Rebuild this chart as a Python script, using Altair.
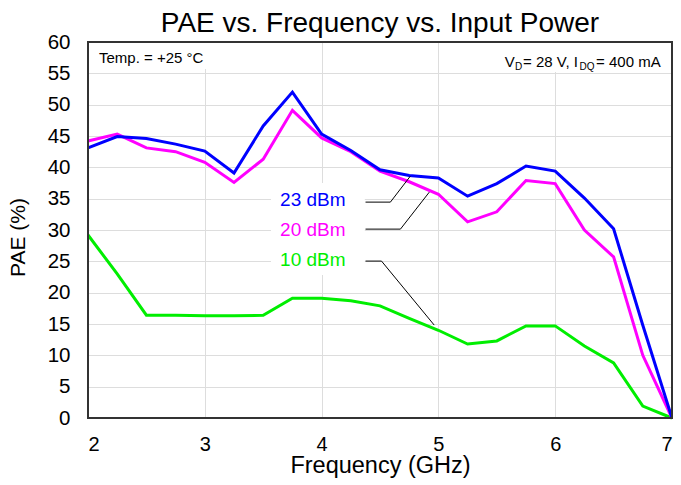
import altair as alt
import pandas as pd

# ---------------- data ----------------
freq = [2.0, 2.25, 2.5, 2.75, 3.0, 3.25, 3.5, 3.75, 4.0, 4.25, 4.5,
        4.75, 5.0, 5.25, 5.5, 5.75, 6.0, 6.25, 6.5, 6.75, 7.0]
pae_23 = [43.1, 44.9, 44.6, 43.7, 42.6, 39.1, 46.6, 52.0, 45.3, 42.7, 39.6,
          38.7, 38.3, 35.4, 37.4, 40.2, 39.4, 35.1, 30.2, 14.8, 0.0]
pae_20 = [44.2, 45.3, 43.1, 42.5, 40.8, 37.6, 41.3, 49.1, 44.7, 42.5, 39.4,
          37.7, 35.7, 31.3, 32.9, 37.9, 37.4, 30.0, 25.7, 10.0, 0.0]
pae_10 = [29.2, 23.0, 16.4, 16.4, 16.3, 16.3, 16.4, 19.1, 19.1, 18.7, 17.9,
          15.9, 14.0, 11.8, 12.3, 14.7, 14.7, 11.5, 8.8, 1.9, 0.0]

series_names = ["10 dBm", "20 dBm", "23 dBm"]
series_colors = ["#00ee00", "#ff00ff", "#0000ff"]

x_ticks = [2, 3, 4, 5, 6, 7]
y_ticks = [0, 5, 10, 15, 20, 25, 30, 35, 40, 45, 50, 55, 60]

# series label positions (data units) and leader-line points
label_x = [3.925, 3.925, 3.925]
label_y = [25.2, 30.0, 34.8]
leader_x = [[4.376, 4.513, 4.964], [4.376, 4.675, 4.922], [4.376, 4.589, 4.760]]
leader_y = [[25.04, 25.04, 14.83], [30.14, 30.14, 36.04], [34.45, 34.45, 38.6]]

# white background boxes behind annotation texts
box_x1 = [2.01, 5.45, 3.567]
box_x2 = [3.07, 6.99, 4.37]
box_y1 = [55.7, 55.2, 22.8]
box_y2 = [59.9, 59.9, 37.5]

FONT = "Liberation Sans"
W, H = 584, 376

# ---------------- tables ----------------
rows = []
for name, vals in zip(series_names, [pae_10, pae_20, pae_23]):
    for f, v in zip(freq, vals):
        rows.append({"freq": f, "pae": v, "series": name})
df = pd.DataFrame(rows)

lead_rows = []
for name, lx, ly in zip(series_names, leader_x, leader_y):
    for i, (a, b) in enumerate(zip(lx, ly)):
        lead_rows.append({"freq": a, "pae": b, "series": name, "i": i})
df_lead = pd.DataFrame(lead_rows)

df_lab = pd.DataFrame({"freq": label_x, "pae": label_y, "series": series_names})
df_box = pd.DataFrame({"freq": box_x1, "freq2": box_x2, "pae": box_y1, "pae2": box_y2})
df_frame = pd.DataFrame({"freq": [2.0], "freq2": [7.0], "pae": [0.0], "pae2": [60.0]})

xs = alt.Scale(domain=[2, 7], nice=False, zero=False)
ys = alt.Scale(domain=[0, 60], nice=False)
cs = alt.Scale(domain=series_names, range=series_colors)

x_axis = alt.Axis(values=x_ticks, grid=True, ticks=False, tickSize=0, domain=False,
                  labelFontSize=20, labelPadding=16, labelFont=FONT, labelColor="black",
                  title="Frequency (GHz)", titleFontSize=23.5, titleFont=FONT,
                  titleFontWeight="normal", titleColor="black",
                  titleBaseline="alphabetic", titleY=54)
y_axis = alt.Axis(values=y_ticks, grid=True, ticks=False, tickSize=0, domain=False,
                  labelFontSize=20.5, labelPadding=18, labelFont=FONT, labelColor="black",
                  title="PAE (%)", titleFontSize=21, titleFont=FONT,
                  titleFontWeight="normal", titleColor="black",
                  titleBaseline="alphabetic", titleX=-64, titleY=195, titleAngle=-90)


def X(field="freq"):
    return alt.X(f"{field}:Q", scale=xs, axis=x_axis)


def Y(field="pae"):
    return alt.Y(f"{field}:Q", scale=ys, axis=y_axis)


boxes = alt.Chart(df_box).mark_rect(fill="white").encode(
    x=X(), x2="freq2:Q", y=Y(), y2="pae2:Q")

lines = alt.Chart(df).mark_line(strokeWidth=3).encode(
    x=X(), y=Y(),
    color=alt.Color("series:N", scale=cs, legend=None),
    order=alt.Order("freq:Q"))

leaders = alt.Chart(df_lead).mark_line(color="black", strokeWidth=1).encode(
    x=X(), y=Y(), detail="series:N", order=alt.Order("i:Q"))

labels = alt.Chart(df_lab).mark_text(font=FONT, fontSize=19, align="center",
                                     baseline="middle").encode(
    x=X(), y=Y(), text="series:N",
    color=alt.Color("series:N", scale=cs, legend=None))

# condition annotations
temp_df = pd.DataFrame({"freq": [2.094], "pae": [56.6], "t": ["Temp. = +25 °C"]})
temp_txt = alt.Chart(temp_df).mark_text(font=FONT, fontSize=15, align="left",
                                        baseline="alphabetic", color="black").encode(
    x=X(), y=Y(), text="t:N")

vd_anchor_x = 5.569
vd_anchor_y = 56.03
vd_parts = [("V", 0, 0, 15), ("D", 10.2, 3, 10), ("= 28 V, I", 18.2, 0, 15),
            ("DQ", 74.6, 3, 10), ("= 400 mA", 91.2, 0, 15)]
vd_layers = []
for txt, dx, dy, fs in vd_parts:
    d = pd.DataFrame({"freq": [vd_anchor_x], "pae": [vd_anchor_y], "t": [txt]})
    vd_layers.append(
        alt.Chart(d).mark_text(font=FONT, fontSize=fs, align="left",
                               baseline="alphabetic", dx=dx, dy=dy,
                               color="black").encode(x=X(), y=Y(), text="t:N"))

frame = alt.Chart(df_frame).mark_rect(fillOpacity=0, stroke="#333333",
                                      strokeWidth=2).encode(
    x=X(), x2="freq2:Q", y=Y(), y2="pae2:Q")

title_df = pd.DataFrame({"t": ["PAE vs. Frequency vs. Input Power"]})
title = alt.Chart(title_df).mark_text(font=FONT, fontSize=28, align="center",
                                      baseline="alphabetic", color="black").encode(
    x=alt.value(W / 2), y=alt.value(-10), text="t:N")

chart = alt.layer(boxes, lines, leaders, labels, temp_txt, *vd_layers, frame, title).properties(
    width=W, height=H,
    autosize=alt.AutoSizeParams(type="none"),
    padding={"left": 80, "top": 34, "right": 1, "bottom": 62},
).configure_view(stroke=None).configure_axis(
    gridColor="#ababab", gridWidth=1.6
).configure(background="white")

chart.save("out.html", embed_options={"renderer": "svg", "actions": False})
